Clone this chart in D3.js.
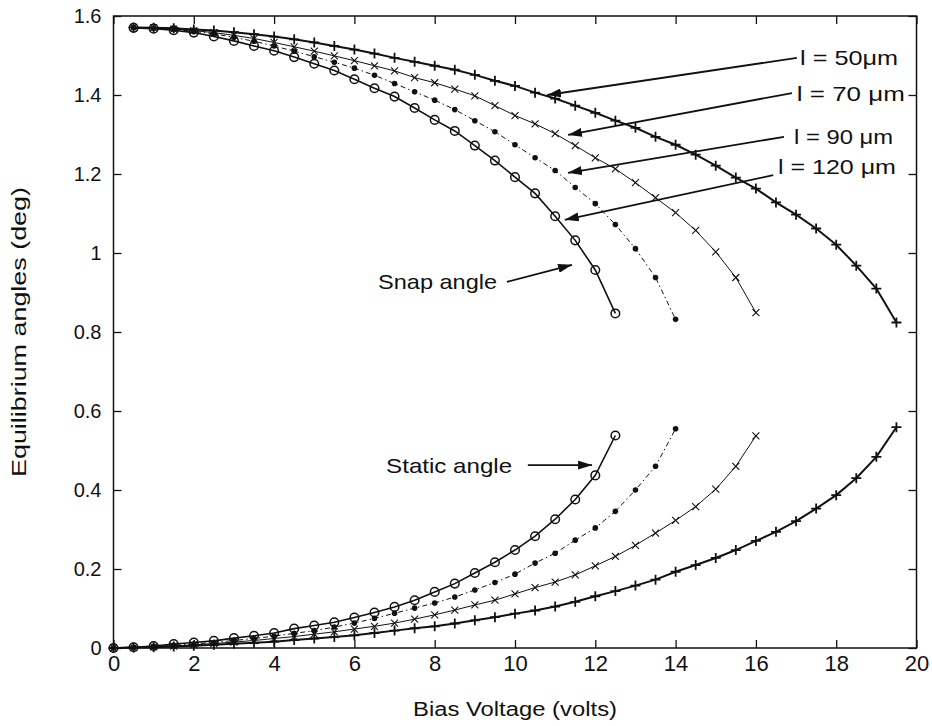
<!DOCTYPE html>
<html><head><meta charset="utf-8">
<script src="https://cdn.jsdelivr.net/npm/d3@7"></script>
<style>
body{margin:0;background:#fff;}
svg text{font-family:"Liberation Sans",Arial,Helvetica,sans-serif;fill:#111;}
</style></head><body>
<svg id="chart" width="932" height="726"></svg>
<script>
// ---------- data ----------
const voltSnap = [0.5,1,1.5,2,2.5,3,3.5,4,4.5,5,5.5,6,6.5,7,7.5,8,8.5,9,9.5,10,10.5,11,11.5,12,12.5,13,13.5,14,14.5,15,15.5,16,16.5,17,17.5,18,18.5,19,19.5];
const voltStatic = [0,0.5,1,1.5,2,2.5,3,3.5,4,4.5,5,5.5,6,6.5,7,7.5,8,8.5,9,9.5,10,10.5,11,11.5,12,12.5,13,13.5,14,14.5,15,15.5,16,16.5,17,17.5,18,18.5,19,19.5];

const snap50  = [1.571,1.570,1.569,1.566,1.563,1.559,1.554,1.548,1.541,1.533,1.524,1.515,1.505,1.494,1.484,1.474,1.464,1.451,1.436,1.423,1.406,1.391,1.373,1.355,1.335,1.317,1.294,1.274,1.249,1.221,1.191,1.163,1.128,1.097,1.062,1.021,0.968,0.910,0.824];
const snap70  = [1.571,1.570,1.567,1.563,1.558,1.551,1.543,1.533,1.522,1.511,1.499,1.487,1.474,1.461,1.444,1.431,1.415,1.398,1.373,1.348,1.327,1.302,1.272,1.241,1.213,1.178,1.140,1.102,1.057,1.003,0.938,0.849];
const snap90  = [1.571,1.569,1.566,1.561,1.555,1.546,1.536,1.524,1.511,1.497,1.483,1.468,1.450,1.429,1.408,1.387,1.363,1.335,1.307,1.274,1.241,1.209,1.166,1.125,1.072,1.011,0.938,0.832];
const snap120 = [1.570,1.568,1.564,1.558,1.548,1.537,1.524,1.512,1.496,1.479,1.462,1.440,1.417,1.396,1.367,1.337,1.309,1.272,1.234,1.192,1.151,1.093,1.032,0.957,0.847];

const static50  = [0,0.001,0.002,0.004,0.006,0.008,0.011,0.013,0.016,0.020,0.024,0.028,0.032,0.038,0.044,0.050,0.055,0.062,0.070,0.078,0.087,0.095,0.105,0.117,0.131,0.144,0.158,0.173,0.193,0.210,0.228,0.248,0.271,0.294,0.321,0.353,0.387,0.430,0.484,0.559];
const static70  = [0,0.001,0.003,0.005,0.008,0.011,0.015,0.019,0.024,0.029,0.035,0.041,0.048,0.055,0.063,0.073,0.084,0.096,0.109,0.121,0.137,0.153,0.167,0.185,0.208,0.232,0.260,0.291,0.323,0.358,0.402,0.460,0.537];
const static90  = [0,0.002,0.004,0.007,0.010,0.014,0.019,0.024,0.030,0.037,0.044,0.053,0.063,0.075,0.088,0.101,0.114,0.129,0.147,0.166,0.187,0.215,0.240,0.273,0.304,0.346,0.400,0.460,0.555];
const static120 = [0,0.002,0.005,0.010,0.014,0.018,0.025,0.031,0.038,0.049,0.057,0.065,0.077,0.090,0.104,0.121,0.142,0.163,0.190,0.217,0.248,0.283,0.326,0.376,0.437,0.538];

const xTicks = [0,2,4,6,8,10,12,14,16,18,20];
const yTicks = [0,0.2,0.4,0.6,0.8,1,1.2,1.4,1.6];
const xTickLabels = ["0","2","4","6","8","10","12","14","16","18","20"];
const yTickLabels = ["0","0.2","0.4","0.6","0.8","1","1.2","1.4","1.6"];

const lengthLabels = ["l = 50\u03bcm","l = 70 \u03bcm","l = 90 \u03bcm","l = 120 \u03bcm"];
const labelWidths = [98,108,99,118];
// label anchor (data coords) and arrow start / tip (data coords)
const labelPos  = [[17.10,1.494],[17.02,1.405],[16.95,1.294],[16.55,1.218]];
const arrowFrom = [[17.02,1.494],[16.90,1.405],[16.70,1.294],[16.43,1.197]];
const arrowTo   = [[10.80,1.400],[11.32,1.299],[11.32,1.203],[11.24,1.084]];
const noteLabels = ["Snap angle","Static angle"];
const noteWidths = [119,126];
const notePos    = [[6.59,0.927],[6.79,0.463]];
const noteFrom   = [[9.80,0.927],[10.32,0.463]];
const noteTo     = [[11.42,0.970],[11.92,0.463]];

// ---------- layout ----------
const svg = d3.select("#chart");
const x = d3.scaleLinear().domain([0,20]).range([113.5,916.5]);
const y = d3.scaleLinear().domain([0,1.6]).range([648,16]);

svg.append("defs").append("marker")
  .attr("id","ah").attr("viewBox","0 0 14 9").attr("refX",14).attr("refY",4.5)
  .attr("markerWidth",14).attr("markerHeight",9).attr("markerUnits","userSpaceOnUse")
  .attr("orient","auto")
  .append("path").attr("d","M0,0 L14,4.5 L0,9 Z").attr("fill","#111");

// frame
svg.append("rect").attr("x",x(0)).attr("y",y(1.6)).attr("width",x(20)-x(0)).attr("height",y(0)-y(1.6))
  .attr("fill","none").attr("stroke","#111").attr("stroke-width",1.5);

const fmtX = (d)=>xTickLabels[xTicks.indexOf(d)];
const fmtY = (d)=>yTickLabels[yTicks.findIndex(t=>Math.abs(t-d)<1e-9)];

const gx = svg.append("g").attr("transform",`translate(0,${y(0)})`)
  .call(d3.axisBottom(x).tickValues(xTicks).tickFormat(fmtX).tickSizeInner(-8).tickSizeOuter(0).tickPadding(7));
const gxt = svg.append("g").attr("transform",`translate(0,${y(1.6)})`)
  .call(d3.axisTop(x).tickValues(xTicks).tickFormat("").tickSizeInner(-8).tickSizeOuter(0));
const gy = svg.append("g").attr("transform",`translate(${x(0)},0)`)
  .call(d3.axisLeft(y).tickValues(yTicks).tickFormat(fmtY).tickSizeInner(-8).tickSizeOuter(0).tickPadding(12));
const gyr = svg.append("g").attr("transform",`translate(${x(20)},0)`)
  .call(d3.axisRight(y).tickValues(yTicks).tickFormat("").tickSizeInner(-8).tickSizeOuter(0));
[gx,gxt,gy,gyr].forEach(g=>{
  g.select(".domain").remove();
  g.selectAll(".tick line").attr("stroke","#111").attr("stroke-width",1.3);
});
gx.selectAll(".tick text").attr("font-size",22).attr("fill","#111").attr("dy","0.72em");
gy.selectAll(".tick text").attr("font-size",20).attr("fill","#111");

// axis titles
svg.append("text").attr("x",(x(0)+x(20))/2).attr("y",716).attr("text-anchor","middle")
  .attr("font-size",20).attr("textLength",204).attr("lengthAdjust","spacingAndGlyphs").text("Bias Voltage (volts)");
svg.append("text").attr("transform",`translate(26,${(y(0)+y(1.6))/2}) rotate(-90)`).attr("text-anchor","middle")
  .attr("font-size",20).attr("textLength",290).attr("lengthAdjust","spacingAndGlyphs").text("Equilibrium angles (deg)");

// ---------- series ----------
const series = [
  {xs:voltSnap,  ys:snap50,   mk:"plus",  w:2.0, dash:null},
  {xs:voltSnap,  ys:snap70,   mk:"cross", w:1.0, dash:null},
  {xs:voltSnap,  ys:snap90,   mk:"dot",   w:1.0, dash:"5,3,1.5,3"},
  {xs:voltSnap,  ys:snap120,  mk:"circle",w:1.6, dash:null},
  {xs:voltStatic,ys:static50, mk:"plus",  w:2.0, dash:null},
  {xs:voltStatic,ys:static70, mk:"cross", w:1.0, dash:null},
  {xs:voltStatic,ys:static90, mk:"dot",   w:1.0, dash:"5,3,1.5,3"},
  {xs:voltStatic,ys:static120,mk:"circle",w:1.6, dash:null}
];
const line = d3.line().x(d=>x(d[0])).y(d=>y(d[1]));
series.forEach(s=>{
  const pts = s.ys.map((v,i)=>[s.xs[i],v]);
  svg.append("path").datum(pts).attr("d",line).attr("fill","none").attr("stroke","#111")
    .attr("stroke-width",s.w).attr("stroke-dasharray",s.dash);
  const g = svg.append("g");
  pts.forEach(p=>{
    const cx=x(p[0]), cy=y(p[1]);
    if(s.mk==="plus"){
      g.append("path").attr("d",`M${cx-5},${cy}H${cx+5}M${cx},${cy-5}V${cy+5}`).attr("stroke","#111").attr("stroke-width",1.8);
    } else if(s.mk==="cross"){
      g.append("path").attr("d",`M${cx-3.5},${cy-3.5}L${cx+3.5},${cy+3.5}M${cx-3.5},${cy+3.5}L${cx+3.5},${cy-3.5}`).attr("stroke","#111").attr("stroke-width",1.1);
    } else if(s.mk==="dot"){
      g.append("circle").attr("cx",cx).attr("cy",cy).attr("r",2.8).attr("fill","#111");
    } else {
      g.append("circle").attr("cx",cx).attr("cy",cy).attr("r",4.3).attr("fill","none").attr("stroke","#111").attr("stroke-width",1.5);
    }
  });
});

// ---------- annotations ----------
lengthLabels.forEach((t,i)=>{
  svg.append("line").attr("x1",x(arrowFrom[i][0])).attr("y1",y(arrowFrom[i][1]))
    .attr("x2",x(arrowTo[i][0])).attr("y2",y(arrowTo[i][1]))
    .attr("stroke","#111").attr("stroke-width",1.8).attr("marker-end","url(#ah)");
  svg.append("text").attr("x",x(labelPos[i][0])).attr("y",y(labelPos[i][1])).attr("dy","0.36em")
    .attr("font-size",21).attr("textLength",labelWidths[i]).attr("lengthAdjust","spacingAndGlyphs").text(t);
});
noteLabels.forEach((t,i)=>{
  svg.append("line").attr("x1",x(noteFrom[i][0])).attr("y1",y(noteFrom[i][1]))
    .attr("x2",x(noteTo[i][0])).attr("y2",y(noteTo[i][1]))
    .attr("stroke","#111").attr("stroke-width",1.8).attr("marker-end","url(#ah)");
  svg.append("text").attr("x",x(notePos[i][0])).attr("y",y(notePos[i][1])).attr("dy","0.36em")
    .attr("font-size",21).attr("textLength",noteWidths[i]).attr("lengthAdjust","spacingAndGlyphs").text(t);
});
</script></body></html>
